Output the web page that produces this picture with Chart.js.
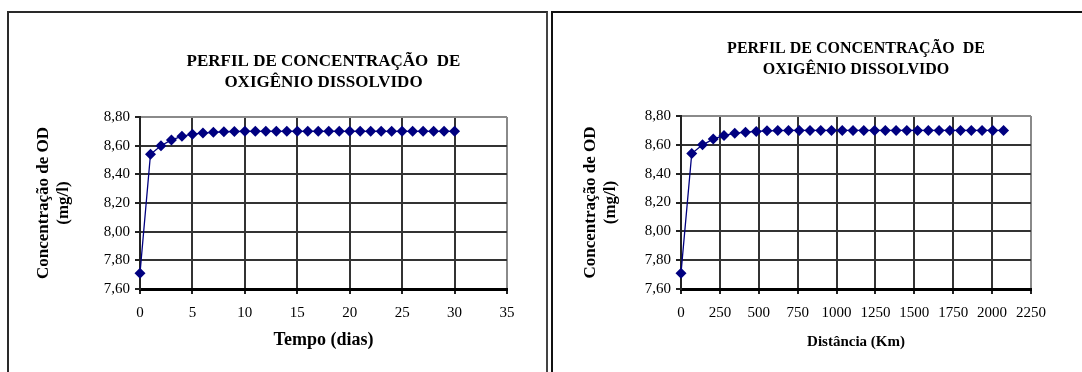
<!DOCTYPE html>
<html>
<head>
<meta charset="utf-8">
<script src="https://cdn.jsdelivr.net/npm/chart.js@4/dist/chart.umd.min.js"></script>
<style>
    html, body { margin: 0; padding: 0; background: #fff; width: 1082px; height: 372px; overflow: hidden; }
    .panel { position: absolute; top: 11px; height: 420px; border: 2px solid #2a2a2a; box-sizing: border-box; }
    #panel-left { left: 7px; width: 541px; border-right-color: #444; }
    #panel-right { left: 551px; width: 600px; border-color: #111; }
    canvas { position: absolute; }
</style>
</head>
<body>
<div class="panel" id="panel-left"></div>
<div class="panel" id="panel-right"></div>
<canvas id="chart-tempo" width="537" height="359" style="left:9px;top:13px"></canvas>
<canvas id="chart-distancia" width="529" height="359" style="left:553px;top:13px"></canvas>
<script>
    const titleLines = ['PERFIL DE CONCENTRAÇÃO  DE', 'OXIGÊNIO DISSOLVIDO'];
    const yTitleLines = ['Concentração de OD', '(mg/l)'];

    // tempo em dias
    const tempoDias = [0, 1, 2, 3, 4, 5, 6, 7, 8, 9, 10, 11, 12, 13, 14, 15, 16, 17, 18, 19, 20,
        21, 22, 23, 24, 25, 26, 27, 28, 29, 30];
    // distancia percorrida (km)
    const distanciaKm = [0, 69.12, 138.24, 207.36, 276.48, 345.6, 414.72, 483.84, 552.96, 622.08,
        691.2, 760.32, 829.44, 898.56, 967.68, 1036.8, 1105.92, 1175.04, 1244.16, 1313.28, 1382.4,
        1451.52, 1520.64, 1589.76, 1658.88, 1728, 1797.12, 1866.24, 1935.36, 2004.48, 2073.6];
    // concentracao de OD (mg/l)
    const concentracaoOD = [7.71, 8.54, 8.60, 8.64, 8.665, 8.68, 8.688, 8.693, 8.697, 8.699, 8.70,
        8.70, 8.70, 8.70, 8.70, 8.70, 8.70, 8.70, 8.70, 8.70, 8.70,
        8.70, 8.70, 8.70, 8.70, 8.70, 8.70, 8.70, 8.70, 8.70, 8.70];

    const FONT = "'Liberation Serif', 'Times New Roman', serif";
    const NAVY = '#000080';

    function buildChart(id, cfg) {
        const points = cfg.xs.map((x, i) => ({ x: x, y: concentracaoOD[i] }));
        return new Chart(document.getElementById(id), {
            type: 'line',
            data: {
                datasets: [{
                    data: points,
                    borderColor: NAVY,
                    backgroundColor: NAVY,
                    borderWidth: 1.3,
                    pointStyle: 'rectRot',
                    pointRadius: 5.5,
                    pointBorderWidth: 0,
                    tension: 0,
                    clip: false
                }]
            },
            options: {
                responsive: false,
                animation: false,
                devicePixelRatio: 1,
                layout: { padding: cfg.padding },
                plugins: {
                    legend: { display: false },
                    tooltip: { enabled: false },
                    title: {
                        display: true,
                        fullSize: false,
                        text: titleLines,
                        color: '#000',
                        font: { family: FONT, size: cfg.titleSize, weight: 'bold', lineHeight: '21px' },
                        padding: cfg.titlePadding
                    }
                },
                scales: {
                    x: {
                        type: 'linear',
                        min: 0,
                        max: cfg.xMax,
                        afterFit: (scale) => { scale.height = 75; },
                        border: { display: true, color: '#000', width: 3 },
                        grid: {
                            color: (ctx) => ctx.tick && ctx.tick.value === cfg.xMax ? '#8a8a8a' : '#333',
                            lineWidth: 2,
                            tickLength: 5,
                            tickColor: '#222'
                        },
                        ticks: {
                            stepSize: cfg.xStep,
                            color: '#000',
                            padding: 10,
                            maxRotation: 0,
                            autoSkip: false,
                            font: { family: FONT, size: 15 },
                            callback: (v) => String(v)
                        },
                        title: {
                            display: true,
                            text: cfg.xTitle,
                            color: '#000',
                            font: { family: FONT, size: cfg.xTitleSize, weight: 'bold', lineHeight: 1.2 },
                            padding: { top: 0, bottom: 13 }
                        }
                    },
                    y: {
                        min: 7.6,
                        max: 8.8,
                        afterFit: (scale) => { scale.width = cfg.yWidth; },
                        border: { display: true, color: '#222', width: 2 },
                        grid: {
                            color: (ctx) => ctx.tick && Math.abs(ctx.tick.value - 8.8) < 1e-6 ? '#8a8a8a' : '#333',
                            lineWidth: 2,
                            tickLength: 5,
                            tickColor: '#222'
                        },
                        ticks: {
                            stepSize: 0.2,
                            color: '#000',
                            padding: 5,
                            font: { family: FONT, size: 15 },
                            callback: (v) => v.toFixed(2).replace('.', ',')
                        },
                        title: {
                            display: true,
                            text: yTitleLines,
                            color: '#000',
                            font: { family: FONT, size: 17, weight: 'bold', lineHeight: '20px' },
                            padding: { top: 0, bottom: 0 }
                        }
                    }
                }
            }
        });
    }

    buildChart('chart-tempo', {
        xs: tempoDias,
        xMax: 35,
        xStep: 5,
        xTitle: 'Tempo (dias)',
        xTitleSize: 18,
        yWidth: 106,
        titleSize: 17,
        titlePadding: { top: 38, bottom: 24 },
        padding: { left: 25, right: 39, top: 0, bottom: 8 }
    });

    buildChart('chart-distancia', {
        xs: distanciaKm,
        xMax: 2250,
        xStep: 250,
        xTitle: 'Distância (Km)',
        xTitleSize: 15,
        yWidth: 100,
        titleSize: 16,
        titlePadding: { top: 25, bottom: 36 },
        padding: { left: 28, right: 51, top: 0, bottom: 8 }
    });
</script>
</body>
</html>
